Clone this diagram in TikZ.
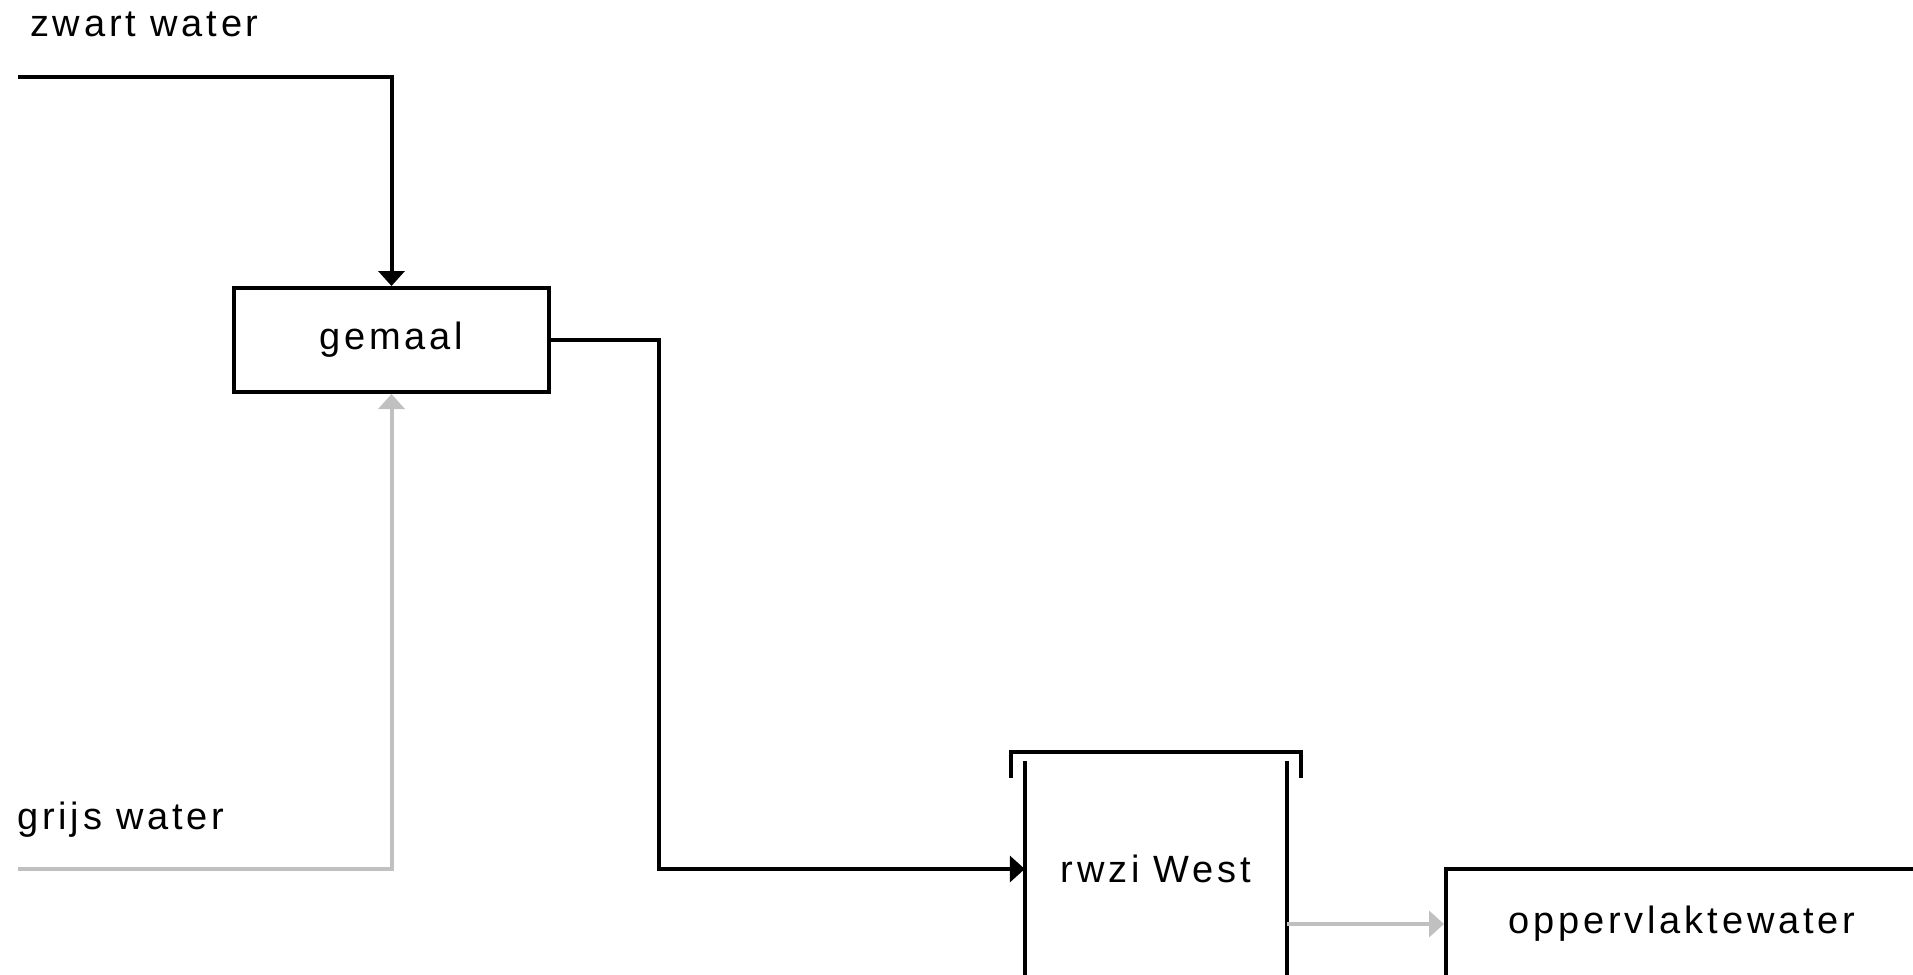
\documentclass[tikz,border=0pt]{standalone}
\usepackage{fontspec}
\setmainfont{Liberation Sans}[LetterSpace=10]
\usetikzlibrary{arrows.meta}
\definecolor{greyflow}{HTML}{C0C0C0}
\tikzset{
  box/.style={draw=black, line width=4pt, inner sep=0pt, align=center},
  flow/.style={line width=4pt, draw=black},
  greyline/.style={line width=4pt, draw=greyflow},
  blacktip/.style={-{Triangle[length=15pt,width=26pt]}},
  greytip/.style={-{Triangle[length=15pt,width=26pt,fill=greyflow]}},
  lbl/.style={inner sep=0pt, anchor=base west},
}
\begin{document}
\begin{tikzpicture}[x=1pt,y=-1pt,font=\fontsize{38}{44}\selectfont]
\useasboundingbox (0,0) rectangle (1913,974);
\clip (0,0) rectangle (1913,974);
% nodes
\node[box, minimum width=315pt, minimum height=104pt] (gemaal) at (391.5,340) {gemaal};
\node[inner sep=0pt, minimum width=262pt, minimum height=216pt] (rwzi) at (1156,869) {rwzi West};
\node[box, minimum width=472pt, minimum height=110pt] (opp) at (1682,924) {oppervlaktewater};
% rwzi tank walls and top bracket
\draw[flow] (rwzi.north west) -- (rwzi.south west);
\draw[flow] (rwzi.north east) -- (rwzi.south east);
\draw[flow] ([shift={(-14,17)}]rwzi.north west) -- ([shift={(-14,-9)}]rwzi.north west)
  -- ([shift={(14,-9)}]rwzi.north east) -- ([shift={(14,17)}]rwzi.north east);
% labels
\node[lbl] (zwart) at (30,37) {zwart water};
\node[lbl] (grijs) at (17,829) {grijs water};
% connectors
\coordinate (zstart) at (18,77);
\coordinate (gstart) at (18,869);
\coordinate (bend) at (659,600);
\draw[flow, blacktip] (zstart) -- (gemaal.north |- zstart) -- (gemaal.north);
\draw[greyline, greytip] (gstart) -- (gemaal.south |- gstart) -- (gemaal.south);
\draw[flow, blacktip] (gemaal.east) -| (bend) |- (rwzi.west);
\draw[greyline, greytip] (rwzi.east |- opp.west) -- (opp.west);
\end{tikzpicture}
\end{document}
